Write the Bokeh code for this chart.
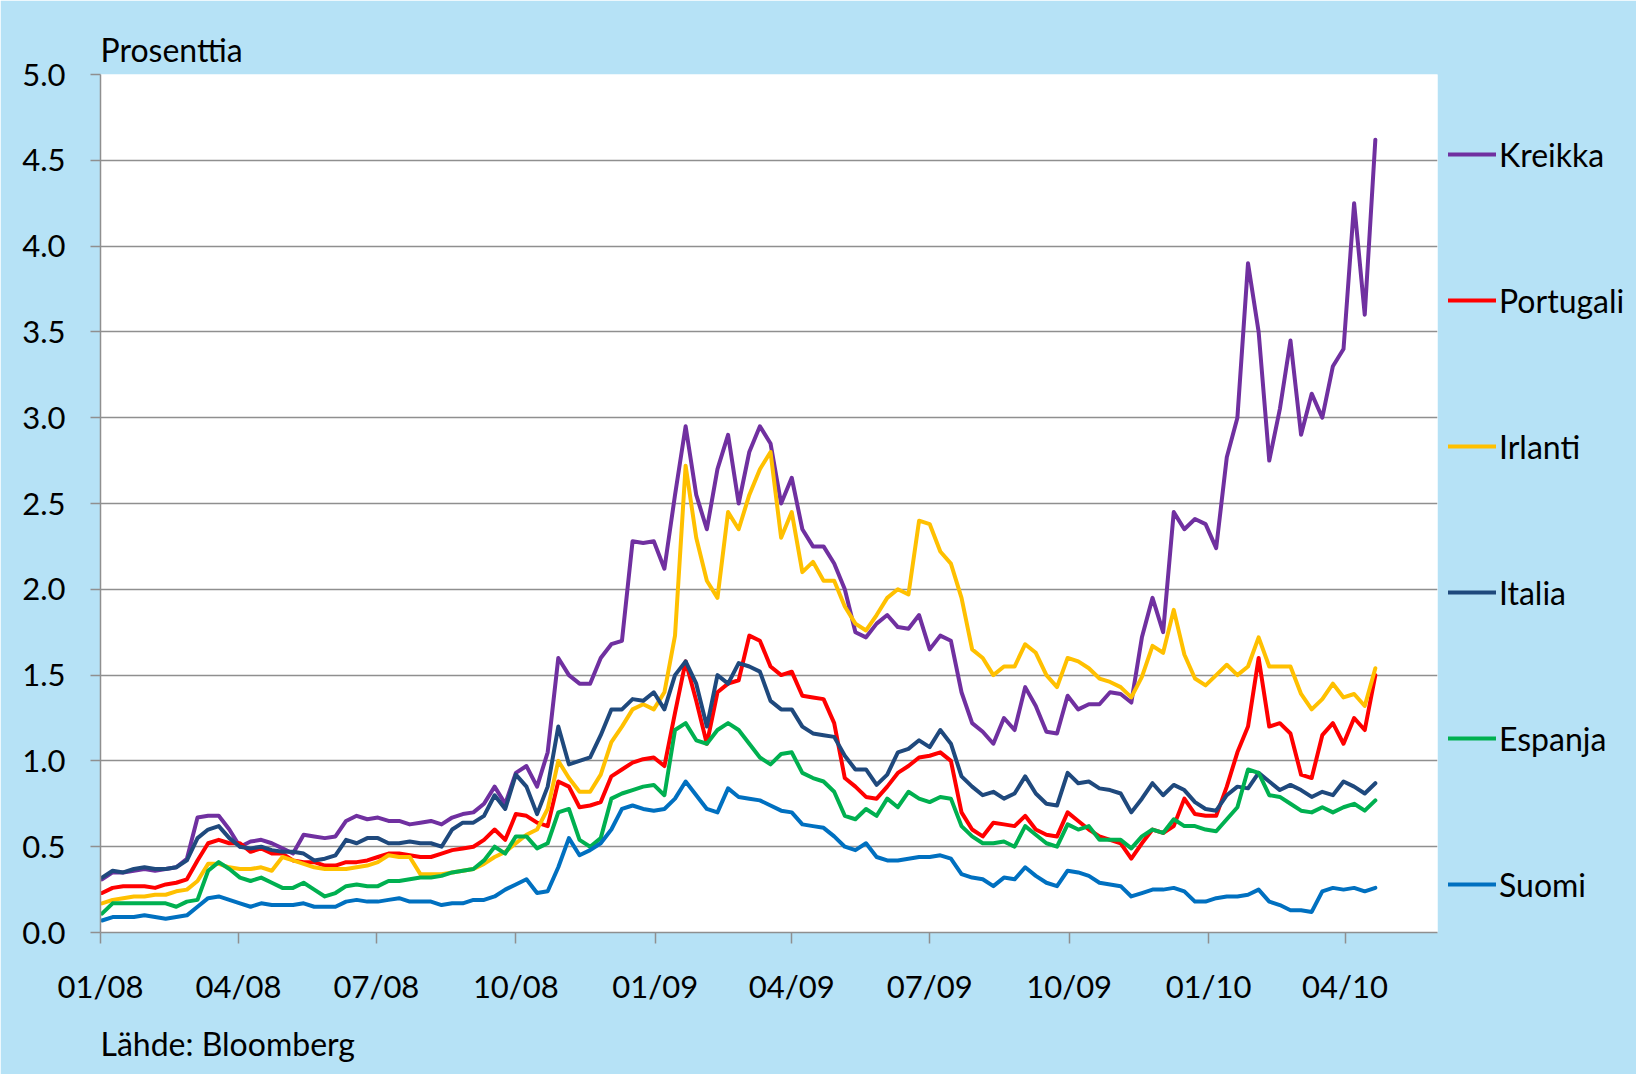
import pandas as pd
from bokeh.plotting import figure
from bokeh.models import (Range1d, FixedTicker, DatetimeTickFormatter, PrintfTickFormatter,
                          Legend, LegendItem, Title)
from bokeh.embed import file_html
from bokeh.resources import INLINE

# ---------------- data (weekly observations, percent) ----------------
first_date = "2008-01-02"
step = "7D"

kreikka = [0.31, 0.35, 0.35, 0.36, 0.37, 0.36, 0.37, 0.38, 0.43, 0.67,
           0.68, 0.68, 0.60, 0.50, 0.53, 0.54, 0.52, 0.49, 0.46, 0.57,
           0.56, 0.55, 0.56, 0.65, 0.68, 0.66, 0.67, 0.65, 0.65, 0.63,
           0.64, 0.65, 0.63, 0.67, 0.69, 0.70, 0.75, 0.85, 0.75, 0.93,
           0.97, 0.85, 1.05, 1.60, 1.50, 1.45, 1.45, 1.60, 1.68, 1.70,
           2.28, 2.27, 2.28, 2.12, 2.55, 2.95, 2.55, 2.35, 2.70, 2.90,
           2.50, 2.80, 2.95, 2.85, 2.50, 2.65, 2.35, 2.25, 2.25, 2.15,
           2.00, 1.75, 1.72, 1.80, 1.85, 1.78, 1.77, 1.85, 1.65, 1.73,
           1.70, 1.40, 1.22, 1.17, 1.10, 1.25, 1.18, 1.43, 1.32, 1.17,
           1.16, 1.38, 1.30, 1.33, 1.33, 1.40, 1.39, 1.34, 1.72, 1.95,
           1.75, 2.45, 2.35, 2.41, 2.38, 2.24, 2.77, 3.00, 3.90, 3.50,
           2.75, 3.05, 3.45, 2.90, 3.14, 3.00, 3.30, 3.40, 4.25, 3.60, 4.62]

portugali = [0.23, 0.26, 0.27, 0.27, 0.27, 0.26, 0.28, 0.29, 0.31, 0.42,
             0.52, 0.54, 0.52, 0.52, 0.47, 0.49, 0.46, 0.46, 0.42, 0.41,
             0.41, 0.39, 0.39, 0.41, 0.41, 0.42, 0.44, 0.46, 0.46, 0.45,
             0.44, 0.44, 0.46, 0.48, 0.49, 0.50, 0.54, 0.60, 0.54, 0.69,
             0.68, 0.64, 0.62, 0.88, 0.85, 0.73, 0.74, 0.76, 0.91, 0.95,
             0.99, 1.01, 1.02, 0.97, 1.28, 1.58, 1.35, 1.10, 1.40, 1.45,
             1.47, 1.73, 1.70, 1.55, 1.50, 1.52, 1.38, 1.37, 1.36, 1.22,
             0.90, 0.85, 0.79, 0.78, 0.85, 0.93, 0.97, 1.02, 1.03, 1.05,
             1.00, 0.70, 0.60, 0.56, 0.64, 0.63, 0.62, 0.68, 0.60, 0.57,
             0.56, 0.70, 0.65, 0.60, 0.56, 0.54, 0.52, 0.43, 0.52, 0.60,
             0.58, 0.62, 0.78, 0.69, 0.68, 0.68, 0.85, 1.05, 1.20, 1.60,
             1.20, 1.22, 1.16, 0.92, 0.90, 1.15, 1.22, 1.10, 1.25, 1.18, 1.50]

irlanti = [0.17, 0.19, 0.20, 0.21, 0.21, 0.22, 0.22, 0.24, 0.25, 0.30,
           0.40, 0.40, 0.38, 0.37, 0.37, 0.38, 0.36, 0.44, 0.42, 0.40,
           0.38, 0.37, 0.37, 0.37, 0.38, 0.39, 0.41, 0.45, 0.44, 0.44,
           0.34, 0.34, 0.34, 0.35, 0.36, 0.37, 0.40, 0.44, 0.47, 0.52,
           0.57, 0.60, 0.72, 1.00, 0.90, 0.82, 0.82, 0.92, 1.11, 1.20,
           1.30, 1.33, 1.30, 1.40, 1.73, 2.72, 2.30, 2.05, 1.95, 2.45,
           2.35, 2.55, 2.70, 2.80, 2.30, 2.45, 2.10, 2.16, 2.05, 2.05,
           1.90, 1.80, 1.76, 1.85, 1.95, 2.00, 1.97, 2.40, 2.38, 2.22,
           2.15, 1.95, 1.65, 1.60, 1.50, 1.55, 1.55, 1.68, 1.63, 1.50,
           1.43, 1.60, 1.58, 1.54, 1.48, 1.46, 1.43, 1.37, 1.49, 1.67,
           1.63, 1.88, 1.62, 1.48, 1.44, 1.50, 1.56, 1.50, 1.55, 1.72,
           1.55, 1.55, 1.55, 1.39, 1.30, 1.36, 1.45, 1.37, 1.39, 1.32, 1.54]

italia = [0.32, 0.36, 0.35, 0.37, 0.38, 0.37, 0.37, 0.38, 0.42, 0.55,
          0.60, 0.62, 0.55, 0.50, 0.49, 0.50, 0.48, 0.47, 0.47, 0.46,
          0.42, 0.43, 0.45, 0.54, 0.52, 0.55, 0.55, 0.52, 0.52, 0.53,
          0.52, 0.52, 0.50, 0.60, 0.64, 0.64, 0.68, 0.80, 0.72, 0.92,
          0.85, 0.69, 0.85, 1.20, 0.98, 1.00, 1.02, 1.15, 1.30, 1.30,
          1.36, 1.35, 1.40, 1.30, 1.50, 1.58, 1.45, 1.20, 1.50, 1.45,
          1.57, 1.55, 1.52, 1.35, 1.30, 1.30, 1.20, 1.16, 1.15, 1.14,
          1.03, 0.95, 0.95, 0.86, 0.92, 1.05, 1.07, 1.12, 1.08, 1.18,
          1.10, 0.91, 0.85, 0.80, 0.82, 0.78, 0.81, 0.91, 0.81, 0.75,
          0.74, 0.93, 0.87, 0.88, 0.84, 0.83, 0.81, 0.70, 0.78, 0.87,
          0.80, 0.86, 0.83, 0.76, 0.72, 0.71, 0.80, 0.85, 0.84, 0.93,
          0.88, 0.83, 0.86, 0.83, 0.79, 0.82, 0.80, 0.88, 0.85, 0.81, 0.87]

espanja = [0.11, 0.17, 0.17, 0.17, 0.17, 0.17, 0.17, 0.15, 0.18, 0.19,
           0.36, 0.41, 0.37, 0.32, 0.30, 0.32, 0.29, 0.26, 0.26, 0.29,
           0.25, 0.21, 0.23, 0.27, 0.28, 0.27, 0.27, 0.30, 0.30, 0.31,
           0.32, 0.32, 0.33, 0.35, 0.36, 0.37, 0.42, 0.50, 0.46, 0.56,
           0.56, 0.49, 0.52, 0.70, 0.72, 0.54, 0.50, 0.55, 0.78, 0.81,
           0.83, 0.85, 0.86, 0.80, 1.18, 1.22, 1.12, 1.10, 1.18, 1.22,
           1.18, 1.10, 1.02, 0.98, 1.04, 1.05, 0.93, 0.90, 0.88, 0.82,
           0.68, 0.66, 0.72, 0.68, 0.78, 0.73, 0.82, 0.78, 0.76, 0.79,
           0.78, 0.62, 0.56, 0.52, 0.52, 0.53, 0.50, 0.62, 0.57, 0.52,
           0.50, 0.63, 0.60, 0.62, 0.54, 0.54, 0.54, 0.49, 0.56, 0.60,
           0.58, 0.66, 0.62, 0.62, 0.60, 0.59, 0.66, 0.73, 0.95, 0.93,
           0.80, 0.79, 0.75, 0.71, 0.70, 0.73, 0.70, 0.73, 0.75, 0.71, 0.77]

suomi = [0.07, 0.09, 0.09, 0.09, 0.10, 0.09, 0.08, 0.09, 0.10, 0.15,
         0.20, 0.21, 0.19, 0.17, 0.15, 0.17, 0.16, 0.16, 0.16, 0.17,
         0.15, 0.15, 0.15, 0.18, 0.19, 0.18, 0.18, 0.19, 0.20, 0.18,
         0.18, 0.18, 0.16, 0.17, 0.17, 0.19, 0.19, 0.21, 0.25, 0.28,
         0.31, 0.23, 0.24, 0.38, 0.55, 0.45, 0.48, 0.52, 0.60, 0.72,
         0.74, 0.72, 0.71, 0.72, 0.78, 0.88, 0.80, 0.72, 0.70, 0.84,
         0.79, 0.78, 0.77, 0.74, 0.71, 0.70, 0.63, 0.62, 0.61, 0.56,
         0.50, 0.48, 0.52, 0.44, 0.42, 0.42, 0.43, 0.44, 0.44, 0.45,
         0.43, 0.34, 0.32, 0.31, 0.27, 0.32, 0.31, 0.38, 0.33, 0.29,
         0.27, 0.36, 0.35, 0.33, 0.29, 0.28, 0.27, 0.21, 0.23, 0.25,
         0.25, 0.26, 0.24, 0.18, 0.18, 0.20, 0.21, 0.21, 0.22, 0.25,
         0.18, 0.16, 0.13, 0.13, 0.12, 0.24, 0.26, 0.25, 0.26, 0.24, 0.26]

series_names = ["Kreikka", "Portugali", "Irlanti", "Italia", "Espanja", "Suomi"]
series_values = [kreikka, portugali, irlanti, italia, espanja, suomi]
series_colors = ["#7030A0", "#FF0000", "#FFC000", "#1F497D", "#00B050", "#0070C0"]

quarter_ticks = ["2008-01-01", "2008-04-01", "2008-07-01", "2008-10-01",
                 "2009-01-01", "2009-04-01", "2009-07-01", "2009-10-01",
                 "2010-01-01", "2010-04-01"]
y_ticks = [0.0, 0.5, 1.0, 1.5, 2.0, 2.5, 3.0, 3.5, 4.0, 4.5, 5.0]
x_start, x_end = "2008-01-01", "2010-06-01"
y_label = "Prosenttia"
source_text = "Lähde: Bloomberg"

# ---------------- figure ----------------
FONT = "Lato"
FS = "31px"
FS_TEXT = "32px"
GRAY = "#8f8f8f"
BG = "#B6E2F6"

dates = pd.date_range(start=first_date, periods=len(kreikka), freq=step)

p = figure(x_axis_type="datetime", output_backend="svg", toolbar_location=None,
           frame_width=1337, frame_height=858,
           min_border_left=100, min_border_right=199, min_border_top=74, min_border_bottom=142,
           x_range=Range1d(pd.Timestamp(x_start), pd.Timestamp(x_end)),
           y_range=Range1d(0, 5))

p.background_fill_color = "white"
p.border_fill_color = BG
p.outline_line_color = None

# axes
p.xaxis.ticker = FixedTicker(ticks=[pd.Timestamp(d).value / 1e6 for d in quarter_ticks])
fmt = "%m/%y"
p.xaxis.formatter = DatetimeTickFormatter(days=fmt, months=fmt, years=fmt, hours=fmt,
                                          hourmin=fmt, minutes=fmt, minsec=fmt,
                                          seconds=fmt, milliseconds=fmt, microseconds=fmt)
p.yaxis.ticker = FixedTicker(ticks=y_ticks)
p.yaxis.formatter = PrintfTickFormatter(format="%.1f")

for ax in (p.xaxis, p.yaxis):
    ax.axis_line_color = GRAY
    ax.axis_line_width = 1.5
    ax.major_tick_line_color = GRAY
    ax.major_tick_line_width = 1.5
    ax.major_tick_in = 0
    ax.minor_tick_line_color = None
    ax.major_label_text_font = FONT
    ax.major_label_text_font_size = FS
    ax.major_label_text_color = "black"

p.xaxis.major_tick_out = 11
p.xaxis.major_label_standoff = 23
p.yaxis.major_tick_out = 10
p.yaxis.major_label_standoff = 25

p.xgrid.grid_line_color = None
p.ygrid.grid_line_color = GRAY
p.ygrid.grid_line_width = 1.5

# lines
items = []
for name, vals, col in zip(series_names, series_values, series_colors):
    r = p.line(dates, vals, line_color=col, line_width=4,
               line_join="round", line_cap="round")
    items.append(LegendItem(label=name, renderers=[r]))

legend = Legend(items=items, location="top_left", orientation="vertical",
                glyph_width=48, glyph_height=138, label_height=138,
                label_standoff=3, spacing=8, padding=0, margin=11,
                border_line_color=None, background_fill_alpha=0,
                label_text_font=FONT, label_text_font_size=FS_TEXT,
                label_text_color="black")
p.add_layout(legend, "right")

p.add_layout(Title(text=y_label, align="left", standoff=12,
                   text_font=FONT, text_font_size=FS_TEXT, text_font_style="normal",
                   text_color="black"), "above")
p.add_layout(Title(text=source_text, align="left", standoff=28,
                   text_font=FONT, text_font_size=FS_TEXT, text_font_style="normal",
                   text_color="black"), "below")

open("out.html", "w").write(file_html(p, INLINE))
